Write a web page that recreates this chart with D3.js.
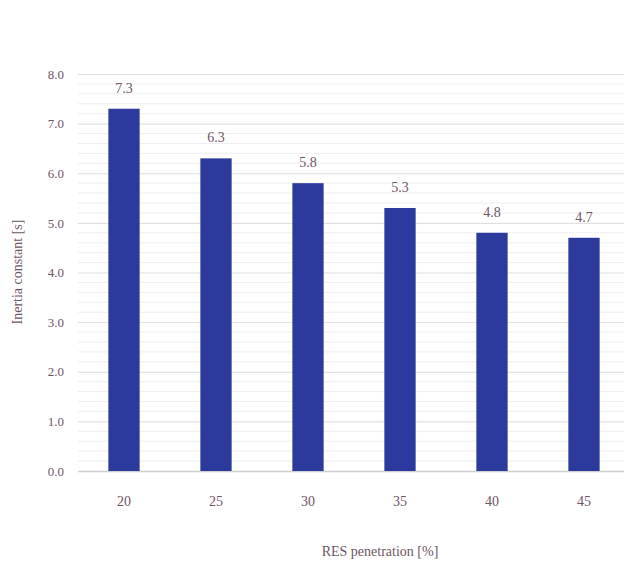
<!DOCTYPE html>
<html>
<head>
<meta charset="utf-8">
<script src="https://cdn.jsdelivr.net/npm/d3@7"></script>
<style>
  html, body { margin: 0; padding: 0; background: #fff; }
  svg { display: block; }
</style>
</head>
<body>
<svg id="chart" width="624" height="565"></svg>
<script>
// Inertia constant versus share of renewable generation
const penetration = ["20", "25", "30", "35", "40", "45"];
const inertia = [7.3, 6.3, 5.8, 5.3, 4.8, 4.7];
const yTicks = [0, 1, 2, 3, 4, 5, 6, 7, 8];

const svg = d3.select("#chart");
const textColor = "#6e5566";
const font = "'Liberation Serif', 'DejaVu Serif', serif";

const x = d3.scaleBand().domain(penetration).range([78, 630]).paddingInner(0.66).paddingOuter(0.33);
const y = d3.scaleLinear().domain([0, 8]).range([471, 74]);

// minor gridlines every 0.2
const minor = d3.range(0, 8.0001, 0.2).filter(v => Math.abs(v - Math.round(v)) > 1e-6);
svg.append("g").selectAll("line").data(minor).join("line")
  .attr("x1", 78).attr("x2", 624)
  .attr("y1", d => y(d)).attr("y2", d => y(d))
  .attr("stroke", "#efedf0").attr("stroke-width", 1);

// major gridlines via axis
const yAxis = svg.append("g").attr("transform", "translate(78,0)")
  .call(d3.axisLeft(y).tickValues(yTicks).tickFormat(d3.format(".1f")).tickSize(-546).tickPadding(14));
yAxis.select(".domain").remove();
yAxis.selectAll(".tick line").attr("stroke", d => d === 0 ? "#cfcfd4" : "#dddbe0").attr("stroke-width", d => d === 0 ? 1.5 : 1);
yAxis.selectAll(".tick text").attr("fill", textColor).style("font-family", font).style("font-size", "13px");

// bars
svg.append("g").selectAll("rect").data(inertia).join("rect")
  .attr("x", (d, i) => x(penetration[i]))
  .attr("width", x.bandwidth())
  .attr("y", d => y(d))
  .attr("height", d => y(0) - y(d))
  .attr("fill", "#2b3a9c");

// value labels
svg.append("g").selectAll("text").data(inertia).join("text")
  .attr("x", (d, i) => x(penetration[i]) + x.bandwidth() / 2)
  .attr("y", d => y(d) - 16)
  .attr("text-anchor", "middle")
  .attr("fill", textColor)
  .style("font-family", font).style("font-size", "14px")
  .text(d => d3.format(".1f")(d));

// x axis labels
const xAxis = svg.append("g").attr("transform", "translate(0,471)")
  .call(d3.axisBottom(x).tickSize(0).tickPadding(25));
xAxis.select(".domain").remove();
xAxis.selectAll(".tick text").attr("fill", textColor).style("font-family", font).style("font-size", "14px");

// axis titles
svg.append("text")
  .attr("x", 380).attr("y", 556)
  .attr("text-anchor", "middle")
  .attr("fill", textColor)
  .style("font-family", font).style("font-size", "14px")
  .text("RES penetration [%]");

svg.append("text")
  .attr("transform", "translate(22,272) rotate(-90)")
  .attr("text-anchor", "middle")
  .attr("fill", textColor)
  .style("font-family", font).style("font-size", "14px")
  .text("Inertia constant [s]");
</script>
</body>
</html>
